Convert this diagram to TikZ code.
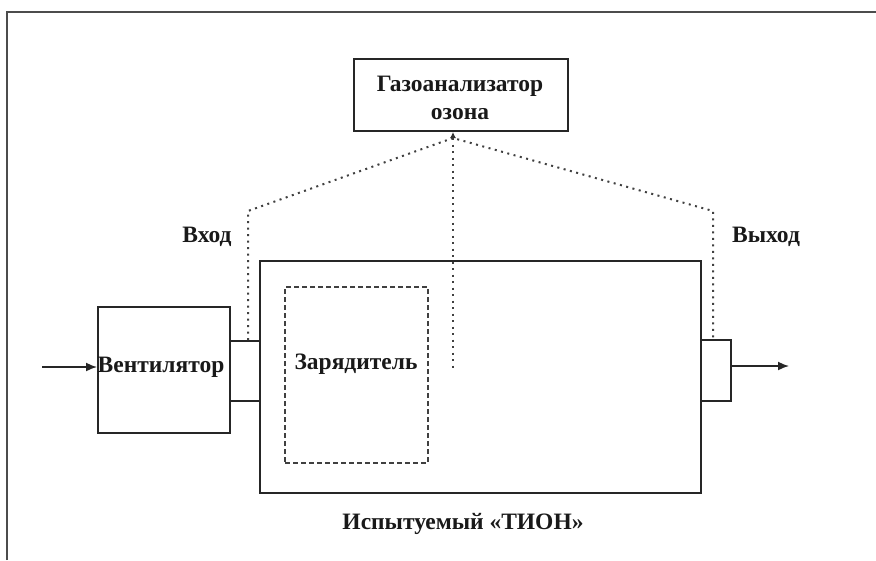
\documentclass[tikz,border=0pt]{standalone}
\usepackage{fontspec}
\setmainfont{Liberation Serif}
\usetikzlibrary{arrows.meta}
\begin{document}
\begin{tikzpicture}[x=1pt,y=-1pt,
  box/.style={draw=black!85,line width=1.8pt},
  lbl/.style={font=\bfseries\fontsize{23.5}{28}\selectfont,text=black!90,inner sep=0pt},
  dots/.style={draw=black!75,line width=2pt,dash pattern=on 2pt off 4.5pt},
  dashbox/.style={draw=black!75,line width=2pt,dash pattern=on 5pt off 3pt},
  flow/.style={draw=black!85,line width=1.6pt,-{Latex[length=11pt,width=9pt]}}]
\useasboundingbox (0,0) rectangle (876,560);
% outer frame (top and left)
\draw[line width=1.8pt,black!70] (7,560) -- (7,12) -- (876,12);
% gas analyzer
\node[box,minimum width=214pt,minimum height=72pt,anchor=north west] (gas) at (353,58) {};
\node[lbl,align=center] (gast) at (460,98) {Газоанализатор\\озона};
% main unit
\node[box,minimum width=441pt,minimum height=232pt,anchor=north west] (tion) at (259,260) {};
% charger
\node[dashbox,minimum width=143pt,minimum height=176pt,anchor=north west] (chg) at (284,286) {};
\node[lbl] (chgt) at (356,364) {Зарядитель};
% inlet / outlet
\node[box,minimum width=30pt,minimum height=60pt,anchor=north west] (inl) at (229,340) {};
\node[box,minimum width=30pt,minimum height=61pt,anchor=north west] (outl) at (700,339) {};
% fan
\node[box,minimum width=132pt,minimum height=126pt,anchor=north west] (fan) at (97,306) {};
\node[lbl] (fant) at (161,367) {Вентилятор};
% labels
\node[lbl] (inlab) at (207,237) {Вход};
\node[lbl] (outlab) at (766,237) {Выход};
\node[lbl] (tionlab) at (463,524) {Испытуемый «ТИОН»};
% sampling lines
\coordinate (apex) at (453,138);
\coordinate (lc) at (248,211);
\coordinate (rc) at (713,211);
\coordinate (mid) at (453,369);
\coordinate (inend) at (42,367);
\coordinate (outend) at (789,366);
\draw[dots] (inl.north west -| lc) -- (lc) -- (apex) -- (rc) -- (outl.north west -| rc);
\draw[dots] (apex) -- (mid);
\draw[line width=1.4pt,black!80,-{Latex[length=6pt,width=6pt]}] (apex) -- ++(0,-6);
% flow arrows
\draw[flow] (inend) -- (fan.west |- inend);
\draw[flow] (outl.east |- outend) -- (outend);
\end{tikzpicture}
\end{document}
